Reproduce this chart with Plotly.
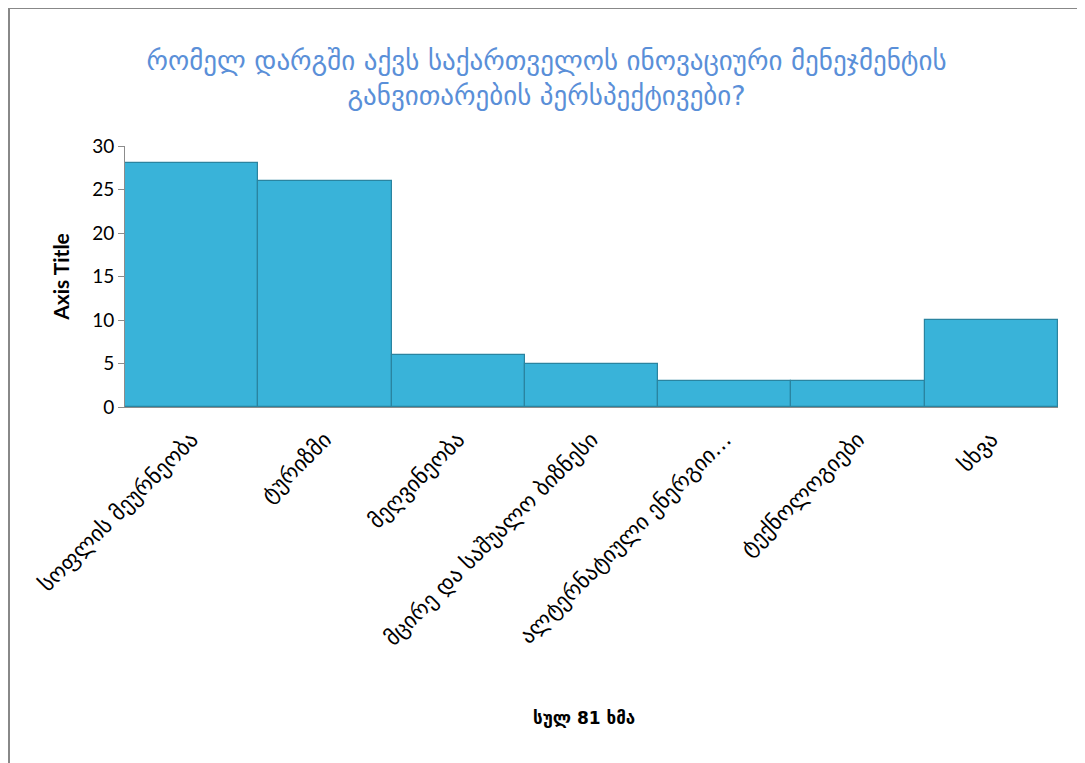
import plotly.graph_objects as go

categories = [
    "სოფლის მეურნეობა",
    "ტურიზმი",
    "მეღვინეობა",
    "მცირე და საშუალო ბიზნესი",
    "ალტერნატიული ენერგიი…",
    "ტექნოლოგიები",
    "სხვა",
]
votes = [28, 26, 6, 5, 3, 3, 10]
y_ticks = [0, 5, 10, 15, 20, 25, 30]

title_text = "რომელ დარგში აქვს საქართველოს ინოვაციური მენეჯმენტის<br>განვითარების პერსპექტივები?"
x_title = "სულ 81 ხმა"
y_title = "Axis Title"

OFF = 8  # browser default body margin
W, H = 1085 - OFF, 763 - OFF
L, R, T, B = 125 - OFF, 1058 - OFF, 146 - OFF, 407 - OFF  # plot area pixel bounds
pw, ph = R - L, B - T

def px_x(p):
    return (p - OFF - L) / pw

def px_y(p):
    return (B - (p - OFF)) / ph

fig = go.Figure()
fig.add_trace(go.Bar(
    x=categories,
    y=votes,
    marker=dict(color="#39B3D9", line=dict(color="#2A84A0", width=1.2)),
    hoverinfo="x+y",
))

fig.update_layout(
    width=W, height=H,
    margin=dict(l=L, r=W - R, t=T, b=H - B, autoexpand=False),
    paper_bgcolor="white",
    plot_bgcolor="white",
    bargap=0,
    showlegend=False,
    font=dict(family="DejaVu Sans, Lato, sans-serif", color="black"),
    title=dict(
        text=title_text,
        x=0.5, xanchor="center",
        y=1 - (70 - OFF) / H, yanchor="middle",
        font=dict(family="DejaVu Sans", size=27, color="#5A8FD8"),
    ),
    xaxis=dict(
        type="category",
        tickangle=-45,
        tickfont=dict(family="DejaVu Sans", size=22, color="black"),
        showline=True, linecolor="#8C8C8C", linewidth=1,
        showgrid=False, ticks="outside", ticklen=10, tickcolor="rgba(0,0,0,0)",
        automargin=False,
    ),
    yaxis=dict(
        range=[0, 30],
        tickvals=y_ticks,
        tickfont=dict(family="Lato, Open Sans, sans-serif", size=19, color="black"),
        showline=True, linecolor="#8C8C8C", linewidth=1,
        ticks="outside", ticklen=6, tickcolor="#8C8C8C",
        showgrid=False, zeroline=False,
        automargin=False,
        title=dict(text="<b>" + y_title + "</b>", standoff=16,
                   font=dict(family="Lato, Open Sans, sans-serif", size=21, color="black")),
    ),
    annotations=[
        dict(
            text="<b>" + x_title + "</b>",
            xref="paper", yref="paper",
            x=px_x(584), y=px_y(718),
            xanchor="center", yanchor="middle",
            showarrow=False,
            font=dict(family="DejaVu Sans", size=17, color="black"),
        )
    ],
    shapes=[
        dict(
            type="rect", xref="paper", yref="paper",
            x0=px_x(9), x1=px_x(1083), y0=px_y(790), y1=px_y(8),
            line=dict(color="#888888", width=2),
            fillcolor="rgba(0,0,0,0)", layer="below",
        )
    ],
)

fig.write_html("out.html")
